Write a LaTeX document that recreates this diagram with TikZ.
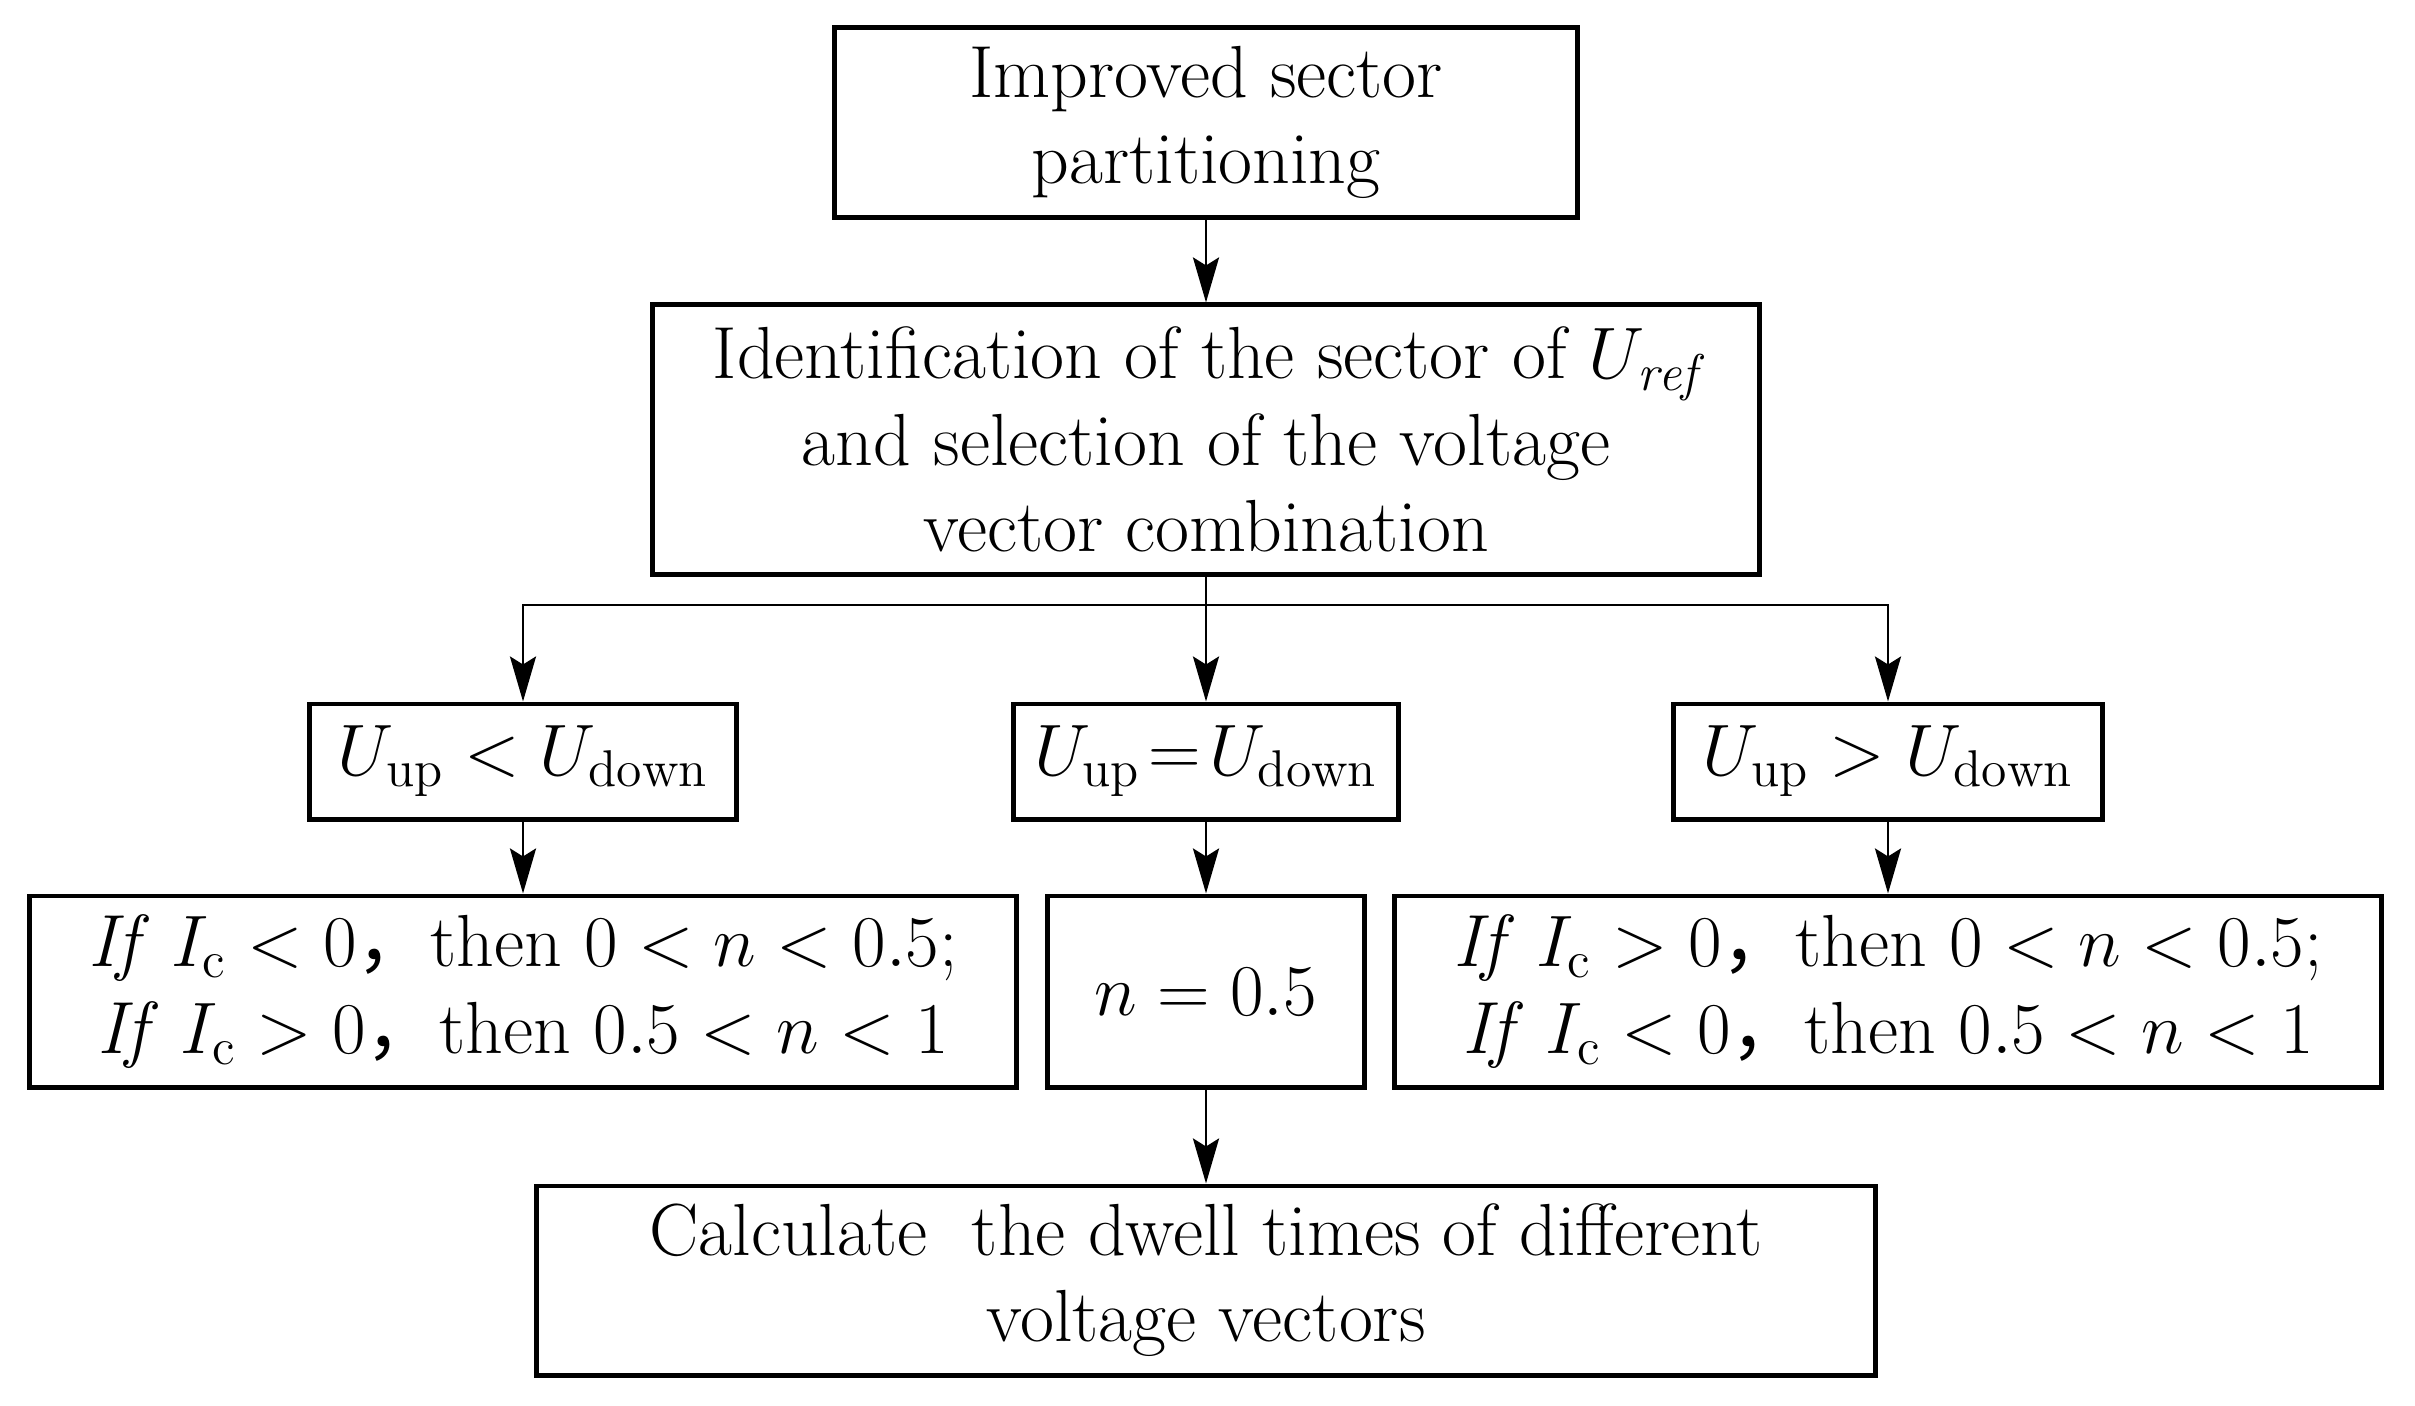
\documentclass[tikz,border=0pt]{standalone}
\usepackage{fontspec}
\newfontfamily\cjk{Noto Sans CJK SC}
\usetikzlibrary{arrows.meta}
\newcommand{\cm}{{\cjk ，}}
\begin{document}
\begin{tikzpicture}[x=0.01cm,y=-0.01cm,
  box/.style={draw,line width=1.4pt,align=center,inner sep=0pt,
    font=\fontsize{21}{24.5}\selectfont},
  arr/.style={-{Stealth[length=4.5mm,width=2.6mm,inset=0.8mm]},line width=0.8pt}]
\useasboundingbox (0,0) rectangle (2415,1405);
\node[box,minimum width=7.42cm,minimum height=1.89cm] (part) at (1206,122.5) {Improved sector\\partitioning};
\node[box,minimum width=11.07cm,minimum height=2.69cm] (ident) at (1206,439.5)
  {Identification of the sector of $U_{\mathit{ref}}$\\and selection of the voltage\\vector combination};
% three cases
\node[box,minimum width=4.26cm,minimum height=1.15cm] (lt) at (523,761.5) {$U_{\mathrm{up}} < U_{\mathrm{down}}$};
\node[box,minimum width=3.85cm,minimum height=1.15cm] (eq) at (1206,761.5) {$U_{\mathrm{up}}\!=\!U_{\mathrm{down}}$};
\node[box,minimum width=4.28cm,minimum height=1.15cm] (gt) at (1888,761.5) {$U_{\mathrm{up}} > U_{\mathrm{down}}$};
\node[box,minimum width=9.87cm,minimum height=1.91cm] (lcase) at (523,991.5)
  {\textit{If} $I_{\mathrm{c}} < 0$\cm then $0 < n < 0.5$;\\\textit{If} $I_{\mathrm{c}} > 0$\cm then $0.5 < n < 1$};
\node[box,minimum width=3.16cm,minimum height=1.91cm] (half) at (1206,991.5) {$n = 0.5$};
\node[box,minimum width=9.86cm,minimum height=1.91cm] (rcase) at (1888,991.5)
  {\textit{If} $I_{\mathrm{c}} > 0$\cm then $0 < n < 0.5$;\\\textit{If} $I_{\mathrm{c}} < 0$\cm then $0.5 < n < 1$};
\node[box,minimum width=13.38cm,minimum height=1.89cm] (dwell) at (1206,1280.5)
  {Calculate\ \ the dwell times of different\\voltage vectors};
\coordinate (j) at (1206,605);
\draw[arr] (part) -- (ident);
\draw[line width=0.8pt] (ident) -- (j);
\draw[arr] (j) -| (lt.north);
\draw[arr] (j) -- (eq);
\draw[arr] (j) -| (gt.north);
\draw[arr] (lt) -- (lcase);
\draw[arr] (eq) -- (half);
\draw[arr] (gt) -- (rcase);
\draw[arr] (half) -- (dwell);
\end{tikzpicture}
\end{document}
